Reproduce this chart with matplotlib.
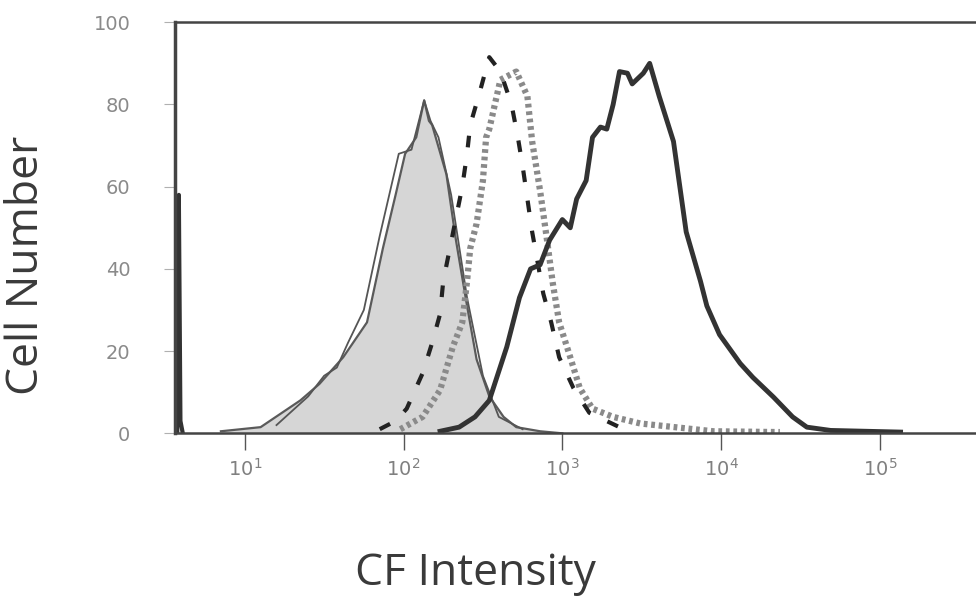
import numpy as np
import matplotlib
matplotlib.use("Agg")
import matplotlib.pyplot as plt
from matplotlib.ticker import FixedLocator, FixedFormatter, NullLocator

# log10(CF intensity) positions and cell counts
ctrl_log = [0.85, 1.10, 1.35, 1.47, 1.62, 1.77, 1.87, 1.95, 2.01, 2.08, 2.13,
            2.16, 2.18, 2.27, 2.33, 2.40, 2.46, 2.54, 2.63, 2.71, 2.86, 3.00]
ctrl_cnt = [0.5, 1.5, 8, 12, 18.5, 27, 45, 58, 68, 72, 81,
            76, 75, 63, 47, 31, 18, 9, 4, 1.5, 0.5, 0]

outline_log = [1.20, 1.40, 1.50, 1.58, 1.65, 1.75, 1.85, 1.97, 2.05, 2.13,
               2.17, 2.22, 2.30, 2.40, 2.50, 2.60, 2.75]
outline_cnt = [2, 9, 14, 16, 22, 30, 48, 68, 69, 81,
               76, 72, 58, 33, 14, 4, 1]

dash_log = [1.85, 1.95, 2.02, 2.12, 2.18, 2.23, 2.25, 2.37, 2.40, 2.42, 2.48,
            2.54, 2.61, 2.68, 2.72, 2.75, 2.78, 2.81, 2.88, 2.93, 2.98, 3.07,
            3.17, 3.36]
dash_cnt = [1, 3, 6, 14.6, 22, 29, 37, 60, 68, 75, 83,
            91.5, 88, 80, 72, 65, 57, 49, 34, 27, 18.5, 11,
            5, 1.5]

dot_log = [1.98, 2.12, 2.23, 2.31, 2.37, 2.40, 2.42, 2.46, 2.50, 2.52, 2.54,
           2.61, 2.71, 2.78, 2.81, 2.86, 2.90, 2.94, 2.98, 3.05, 3.11, 3.19,
           3.32, 3.49, 3.95, 4.37]
dot_cnt = [1, 4, 10.5, 21, 27, 37, 45, 51, 61.5, 72, 74,
           86, 88, 82, 71, 59, 48, 36.5, 27, 18.5, 11, 6,
           4, 2.4, 0.5, 0.3]

cf_log = [2.23, 2.35, 2.45, 2.54, 2.65, 2.73, 2.80, 2.86, 2.92, 3.00, 3.05,
          3.09, 3.15, 3.19, 3.24, 3.28, 3.32, 3.36, 3.41, 3.44, 3.51, 3.55,
          3.61, 3.70, 3.78, 3.87, 3.91, 3.99, 4.12, 4.20, 4.33, 4.45, 4.54,
          4.69, 5.13]
cf_cnt = [0.5, 1.5, 4, 8, 21, 33, 40, 41, 47, 52, 50,
          57, 61.5, 72, 74.5, 74, 80, 88, 87.6, 85, 87.6, 90,
          82, 71, 49, 37, 31, 24, 17, 13.6, 8.8, 4, 1.5,
          0.7, 0.3]

spike_log = [0.575, 0.585, 0.595, 0.61]
spike_cnt = [0, 58, 3, 0]

decades = [1, 2, 3, 4, 5]
yticks = [0, 20, 40, 60, 80, 100]

def tx(v):
    return 10 ** np.asarray(v)

fig = plt.figure(figsize=(9.76, 6.01), dpi=100)
ax = fig.add_axes([0.179, 0.279, 0.821, 0.684])
ax.set_xscale("log")

ax.fill_between(tx(ctrl_log), ctrl_cnt, color="#d6d6d6", lw=0)
ax.plot(tx(ctrl_log), ctrl_cnt, color="#5a5a5a", lw=1.6)
ax.plot(tx(outline_log), outline_cnt, color="#555555", lw=1.3)
ax.plot(tx(dot_log), dot_cnt, color="#8a8a8a", lw=4.5, linestyle=(0, (0.6, 0.6)))
ax.plot(tx(dash_log), dash_cnt, color="#222222", lw=3, linestyle=(0, (2.8, 4.5)))
ax.plot(tx(cf_log), cf_cnt, color="#333333", lw=3.5)
ax.plot(tx(spike_log), spike_cnt, color="#333333", lw=3)

ax.set_xlim(10 ** 0.559, 10 ** 5.605)
ax.set_ylim(0, 100)

ax.xaxis.set_major_locator(FixedLocator(tx(decades)))
ax.xaxis.set_major_formatter(FixedFormatter([f"$10^{d}$" for d in decades]))
ax.xaxis.set_minor_locator(NullLocator())
ax.tick_params(axis="x", direction="out", length=12, width=1, color="#555555",
               labelsize=14, labelcolor="#808080", pad=6)

ax.set_yticks(yticks)
ax.set_yticklabels([str(v) for v in yticks], family="DejaVu Sans")
ax.tick_params(axis="y", direction="out", length=8, width=0.8, color="#b0b0b0",
               labelsize=14, labelcolor="#8a8a8a", pad=24)

for side in ["left", "top", "bottom"]:
    ax.spines[side].set_color("#444444")
ax.spines["left"].set_linewidth(2.5)
ax.spines["top"].set_linewidth(1.8)
ax.spines["bottom"].set_linewidth(1.8)
ax.spines["right"].set_visible(False)

fig.text(0.027, 0.559, "Cell Number", rotation=90, ha="center", va="center",
         fontsize=32, family="Open Sans", color="#3a3a3a")
fig.text(0.487, 0.045, "CF Intensity", ha="center", va="center",
         fontsize=32, family="Open Sans", color="#3a3a3a")

fig.savefig("out.png", dpi=100, facecolor="white")
